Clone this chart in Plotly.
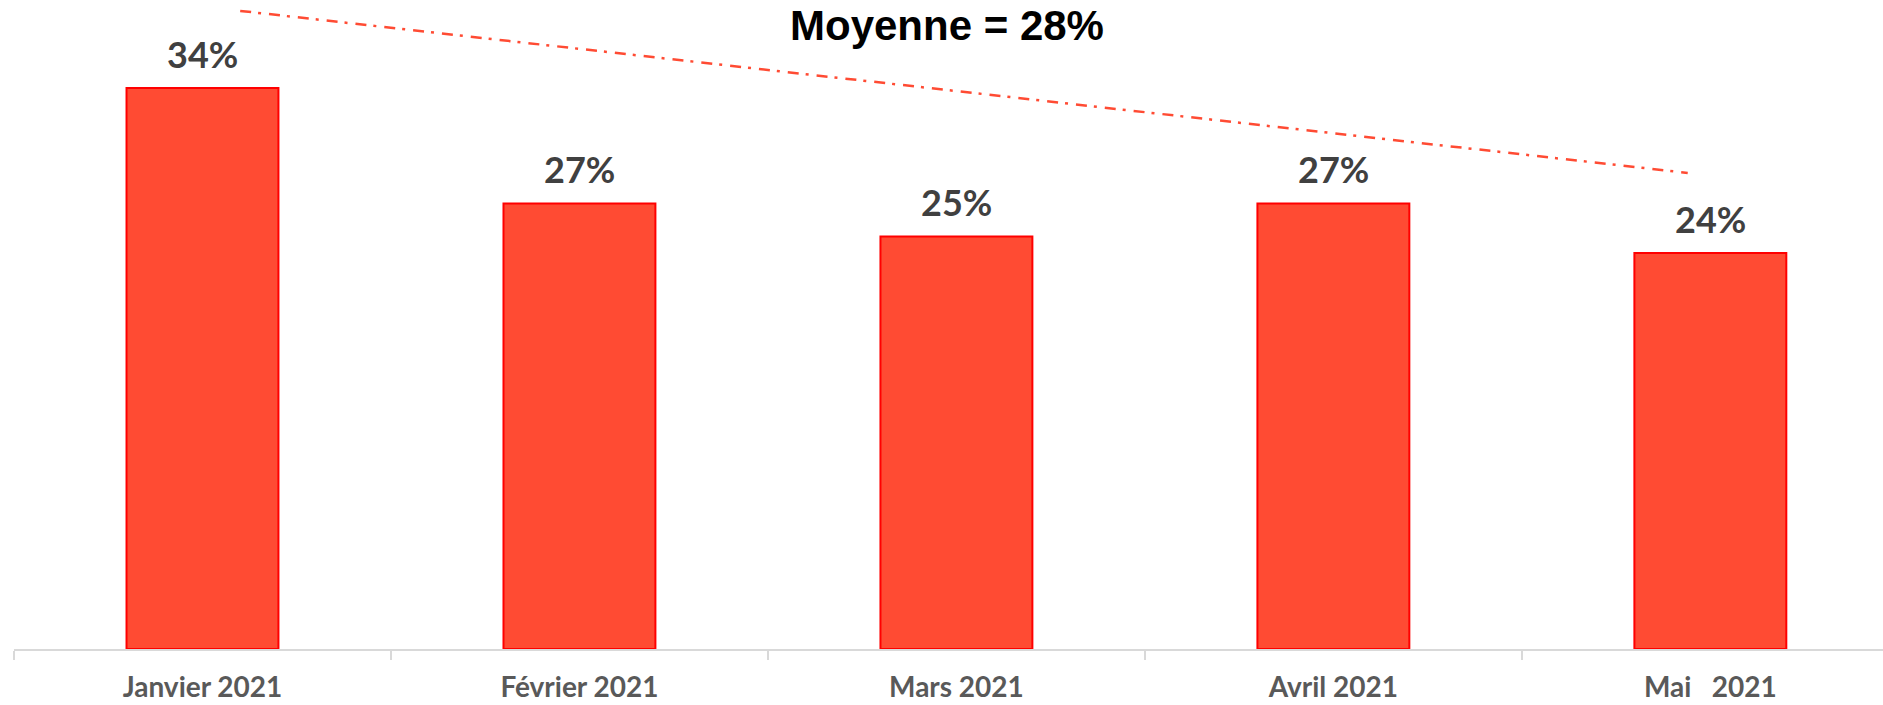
import plotly.graph_objects as go

# ---- data ----
categories = ["Janvier 2021", "Février 2021", "Mars 2021", "Avril 2021", "Mai\u00a0\u00a0\u00a02021"]
values = [34, 27, 25, 27, 24]
labels = ["34%", "27%", "25%", "27%", "24%"]
title_text = "Moyenne = 28%"
# hand-drawn trend line end points (category index, percent)
trend_x = [0.10, 3.94]
trend_y = [38.67, 28.85]

fig = go.Figure()

fig.add_trace(go.Bar(
    x=categories, y=values, width=0.403,
    marker=dict(color="#FF4B33", line=dict(color="#FF0000", width=2)),
    hoverinfo="skip", showlegend=False,
))

fig.add_trace(go.Scatter(
    x=trend_x, y=trend_y, xaxis="x2", mode="lines",
    line=dict(color="#FF4B33", width=2.5, dash="11px,7px,3px,8px"),
    hoverinfo="skip", showlegend=False,
))

for c, v, t in zip(categories, values, labels):
    fig.add_annotation(
        x=c, y=v, xref="x", yref="y", text="<b>%s</b>" % t,
        showarrow=False, yanchor="bottom", yshift=10,
        font=dict(family="Lato", size=36, color="#404040"),
    )

fig.add_annotation(
    x=939.5 / 1883, y=1 - 28 / 705, xref="paper", yref="paper",
    text="<b>%s</b>" % title_text, showarrow=False,
    xanchor="center", yanchor="middle",
    font=dict(family="Liberation Sans, Arial", size=42, color="#000000"),
)

xr = [-0.5, 4.458]
fig.update_layout(
    width=1883, height=705,
    margin=dict(l=14, r=0, t=0, b=56),
    paper_bgcolor="white", plot_bgcolor="white",
    xaxis=dict(
        type="category", range=xr, showline=True, linecolor="#D9D9D9", linewidth=1.5,
        ticks="outside", tickson="boundaries", ticklen=9, tickcolor="#D9D9D9", tickwidth=1.5,
        showgrid=False, zeroline=False, automargin=False,
        tickfont=dict(family="Lato", size=28, color="#595959", weight="bold"),
        ticklabelstandoff=13,
    ),
    xaxis2=dict(type="linear", range=xr, overlaying="x", visible=False),
    yaxis=dict(range=[0, 39.33], visible=False, showgrid=False, zeroline=False, automargin=False),
)

fig.write_html(
    "out.html",
    config={"displayModeBar": False},
    post_script="document.body.style.margin='0';document.body.style.overflow='hidden';",
)
